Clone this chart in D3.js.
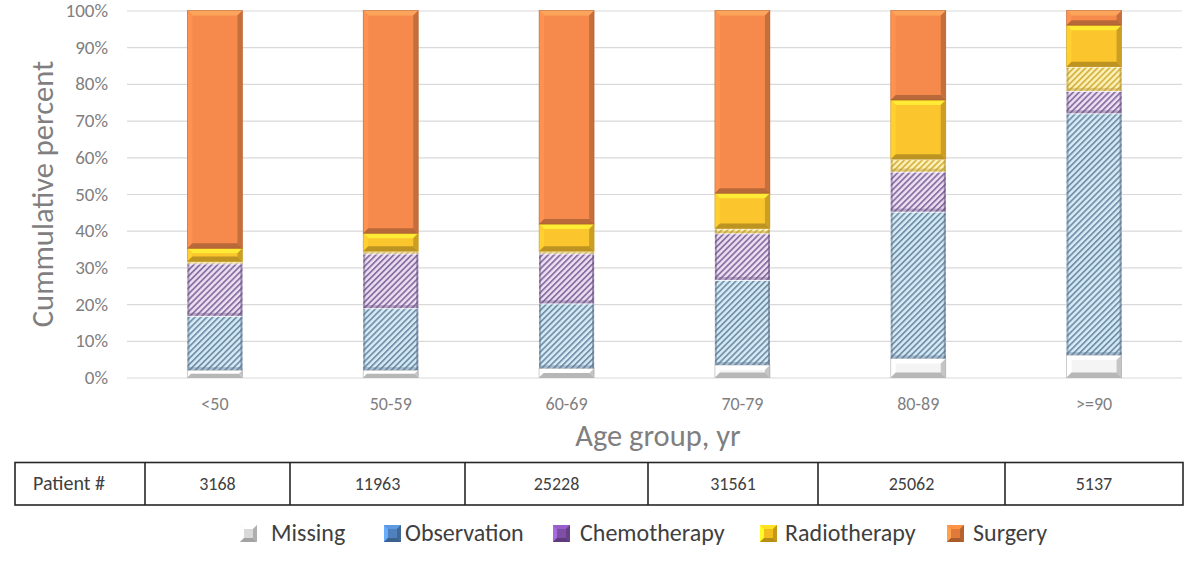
<!DOCTYPE html>
<html><head><meta charset="utf-8">
<script src="https://cdn.jsdelivr.net/npm/d3@7"></script>
<style>
html,body{margin:0;padding:0;background:#fff;}
svg{display:block;font-family:Carlito, Lato, "Open Sans", sans-serif;}
</style></head>
<body>
<svg id="chart" width="1200" height="561"></svg>
<script>
// ---- data ----
const categories = ["<50", "50-59", "60-69", "70-79", "80-89", ">=90"];
const patientCounts = [3168, 11963, 25228, 31561, 25062, 5137];
const missing      = [2.0, 2.0, 2.5, 3.4, 5.2, 6.1];
const observation  = [14.8, 16.9, 17.7, 23.2, 40.0, 65.9];
const chemotherapy = [14.3, 14.9, 13.6, 12.7, 10.9, 6.1];
const radioHatched = [0.5, 0.6, 0.6, 1.3, 3.4, 6.6];
const radiotherapy = [3.6, 4.9, 7.4, 9.6, 16.1, 11.3];
const surgery      = [64.8, 60.7, 58.2, 49.8, 24.4, 4.0];
const yTicks = [0, 10, 20, 30, 40, 50, 60, 70, 80, 90, 100];
const legendLabels = ["Missing", "Observation", "Chemotherapy", "Radiotherapy", "Surgery"];

const keys = ["Missing", "Observation", "Chemotherapy", "RadioHatched", "Radiotherapy", "Surgery"];
const seriesArrays = [missing, observation, chemotherapy, radioHatched, radiotherapy, surgery];
const rows = categories.map((c, i) => {
  const r = {cat: c};
  keys.forEach((k, j) => r[k] = seriesArrays[j][i]);
  return r;
});

// ---- layout ----
const svg = d3.select("#chart");
const plot = {left: 127, right: 1182, top: 10.5, bottom: 377.5};
const x = d3.scaleBand().domain(categories).range([plot.left, plot.right]).paddingInner(0.687).paddingOuter(0.3435);
const y = d3.scaleLinear().domain([0, 100]).range([plot.bottom, plot.top]);

const styles = {
  Missing:      {type: "solid", color: "#f4f4f4", edge: "#8c8c8c"},
  Observation:  {type: "hatch", bg: "#d3ecf5", fg: "#7891ab", edge: "#5f7690"},
  Chemotherapy: {type: "hatch", bg: "#eddff2", fg: "#8a71a3", edge: "#6b5585"},
  RadioHatched: {type: "hatch", bg: "#fcf1b8", fg: "#d6b445", edge: "#b9962c"},
  Radiotherapy: {type: "solid", color: "#fbc52d", edge: "#b58a10"},
  Surgery:      {type: "solid", color: "#f58a4c", edge: "#a85422"}
};
const legendColors = {
  Missing: "#d9d9d9", Observation: "#4f81bd", Chemotherapy: "#7f4fa8",
  Radiotherapy: "#f2bd1d", Surgery: "#e07a3a"
};

const defs = svg.append("defs");
keys.forEach(k => {
  const s = styles[k];
  if (s.type !== "hatch") return;
  const p = defs.append("pattern").attr("id", "hatch-" + k)
    .attr("patternUnits", "userSpaceOnUse").attr("width", 4.2).attr("height", 4.2)
    .attr("patternTransform", "rotate(45)");
  p.append("rect").attr("width", 4.2).attr("height", 4.2).attr("fill", s.bg);
  p.append("rect").attr("x", 0).attr("width", 1.8).attr("height", 4.2).attr("fill", s.fg);
});

// gridlines
svg.append("g").attr("transform", `translate(${plot.left},0)`)
  .call(d3.axisLeft(y).tickValues(yTicks).tickSize(-(plot.right - plot.left)).tickFormat(""))
  .call(g => g.select(".domain").remove())
  .call(g => g.selectAll(".tick line").attr("stroke", "#d9d9d9").attr("stroke-width", 1.2));

// y axis labels
svg.append("g").attr("transform", `translate(${plot.left - 19},0)`)
  .call(d3.axisLeft(y).tickValues(yTicks).tickSize(0).tickPadding(0).tickFormat(d => d + "%"))
  .call(g => g.select(".domain").remove())
  .call(g => g.attr("font-size", 19).attr("font-family", null))
  .call(g => g.selectAll("text").attr("fill", "#7f7f7f"));

// x axis labels
svg.append("g").attr("transform", `translate(0,${plot.bottom + 20})`)
  .call(d3.axisBottom(x).tickSize(0).tickPadding(0))
  .call(g => g.select(".domain").remove())
  .call(g => g.attr("font-size", 18).attr("font-family", null))
  .call(g => g.selectAll("text").attr("fill", "#7f7f7f"));

// axis titles
svg.append("text").attr("transform", `translate(53,194) rotate(-90)`)
  .attr("text-anchor", "middle").attr("fill", "#7f7f7f").attr("font-size", 30.5)
  .text("Cummulative percent");
svg.append("text").attr("x", 658).attr("y", 446)
  .attr("text-anchor", "middle").attr("fill", "#7f7f7f").attr("font-size", 30.5)
  .text("Age group, yr");

// bars
const stacked = d3.stack().keys(keys)(rows);
const barG = svg.append("g");
stacked.forEach(layer => {
  const k = layer.key, s = styles[k];
  layer.forEach(d => {
    const x0 = x(d.data.cat), w = x.bandwidth();
    const y0 = y(d[1]), h = y(d[0]) - y(d[1]);
    if (h <= 0) return;
    const g = barG.append("g");
    if (s.type === "hatch") {
      g.append("rect").attr("x", x0).attr("y", y0).attr("width", w).attr("height", h)
        .attr("fill", `url(#hatch-${k})`);
      const b = Math.min(3, h / 2);
      g.append("rect").attr("x", x0).attr("y", y0).attr("width", 2).attr("height", h).attr("fill", s.edge).attr("opacity", 0.5);
      g.append("rect").attr("x", x0 + w - 2).attr("y", y0).attr("width", 2).attr("height", h).attr("fill", s.edge).attr("opacity", 0.65);
      g.append("rect").attr("x", x0).attr("y", y0 + h - b).attr("width", w).attr("height", b).attr("fill", s.edge).attr("opacity", 0.4);
      g.append("rect").attr("x", x0).attr("y", y0).attr("width", w).attr("height", 1).attr("fill", "#ffffff").attr("opacity", 0.9);
    } else {
      const c = d3.color(s.color);
      const b = Math.min(5, h / 2);
      g.append("rect").attr("x", x0).attr("y", y0).attr("width", w).attr("height", h).attr("fill", c);
      const x1 = x0 + w, y1 = y0 + h;
      const poly = (pts, fill) => g.append("polygon")
        .attr("points", pts.map(p => p.join(",")).join(" ")).attr("fill", fill);
      poly([[x0, y0], [x1, y0], [x1 - b, y0 + b], [x0 + b, y0 + b]], c.brighter(0.5));
      poly([[x0, y0], [x0 + b, y0 + b], [x0 + b, y1 - b], [x0, y1]], c.brighter(0.15));
      poly([[x1, y0], [x1, y1], [x1 - b, y1 - b], [x1 - b, y0 + b]], c.darker(0.6));
      poly([[x0, y1], [x0 + b, y1 - b], [x1 - b, y1 - b], [x1, y1]], c.darker(0.8));
      g.append("rect").attr("x", x0).attr("y", y0).attr("width", w).attr("height", h)
        .attr("fill", "none").attr("stroke", s.edge).attr("stroke-width", 0.8).attr("opacity", 0.5);
    }
  });
});

// table
const colEdges = [15, 145, 290, 465, 648, 818, 1005, 1183];
const tableTop = 462.5, tableBottom = 505;
const tg = svg.append("g");
tg.append("rect").attr("x", colEdges[0]).attr("y", tableTop)
  .attr("width", colEdges[colEdges.length - 1] - colEdges[0]).attr("height", tableBottom - tableTop)
  .attr("fill", "none").attr("stroke", "#262626").attr("stroke-width", 1.6);
colEdges.slice(1, -1).forEach(cx => tg.append("line").attr("x1", cx).attr("x2", cx)
  .attr("y1", tableTop).attr("y2", tableBottom).attr("stroke", "#262626").attr("stroke-width", 1.6));
const cellTexts = ["Patient #"].concat(patientCounts.map(String));
cellTexts.forEach((t, i) => tg.append("text")
  .attr("x", i === 0 ? 33 : (colEdges[i] + colEdges[i + 1]) / 2).attr("y", (tableTop + tableBottom) / 2 + 6)
  .attr("text-anchor", i === 0 ? "start" : "middle").attr("font-size", i === 0 ? 20 : 18)
  .attr("fill", "#404040").text(t));

// legend
const legendIconX = [240, 384, 553, 760, 947];
const legendTextX = [271, 405, 580, 785, 973];
const lg = svg.append("g");
legendLabels.forEach((lab, i) => {
  const c = d3.color(legendColors[lab]);
  const gx = legendIconX[i], gy = 525, s = 17;
  const g = lg.append("g");
  g.append("rect").attr("x", gx).attr("y", gy).attr("width", s).attr("height", s).attr("fill", c);
  const b = 4;
  const poly = (pts, fill) => g.append("polygon").attr("points", pts.map(p => p.join(",")).join(" ")).attr("fill", fill);
  poly([[gx, gy], [gx + s, gy], [gx + s - b, gy + b], [gx + b, gy + b]], c.brighter(0.5));
  poly([[gx, gy], [gx + b, gy + b], [gx + b, gy + s - b], [gx, gy + s]], c.brighter(0.8));
  poly([[gx + s, gy], [gx + s, gy + s], [gx + s - b, gy + s - b], [gx + s - b, gy + b]], c.darker(0.6));
  poly([[gx, gy + s], [gx + b, gy + s - b], [gx + s - b, gy + s - b], [gx + s, gy + s]], c.darker(0.8));
  lg.append("text").attr("x", legendTextX[i]).attr("y", gy + 16).attr("font-size", 24)
    .attr("fill", "#404040").text(lab);
});
</script>
</body></html>
